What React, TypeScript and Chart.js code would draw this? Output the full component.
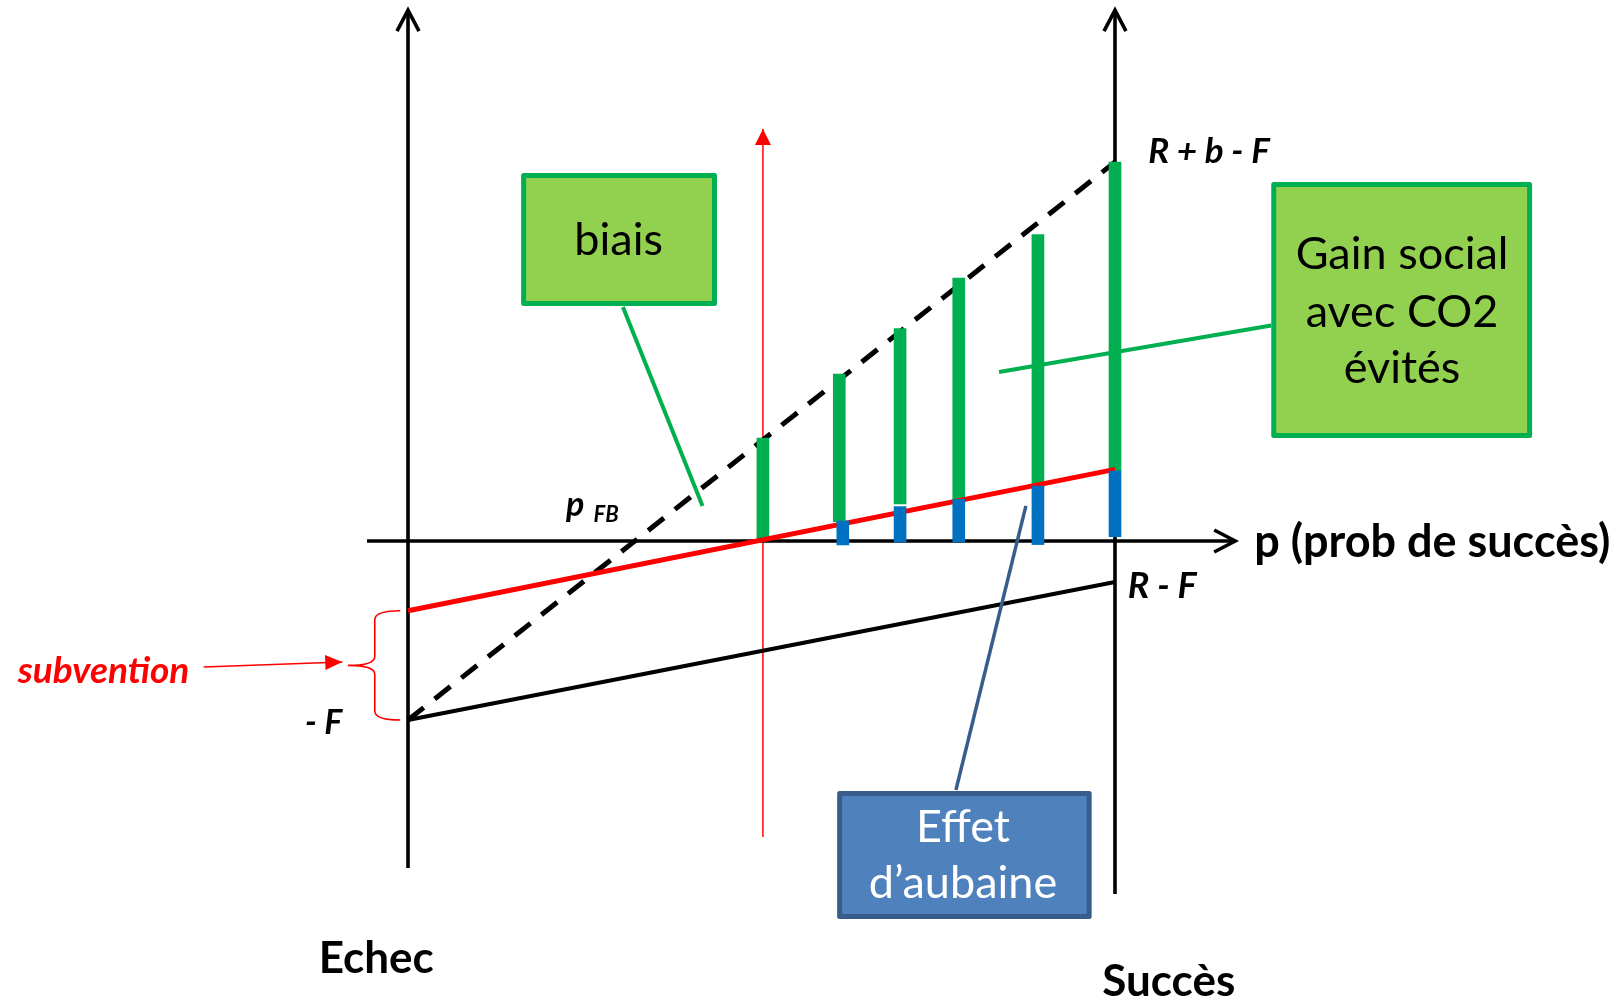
import React, { useEffect, useRef } from "react";
import { Chart, registerables } from "chart.js";

Chart.register(...registerables);

// ---------- values (x: probability of success p, 0 = Echec, 1 = Succès; y: payoff in units of F) ----------
const pEnds = [0, 1];
const minusF = -1;
const rMinusF = -0.229;
const rPlusBMinusF = 2.117;
const subsidyLine = [-0.39, 0.4];
const pThreshold = 0.502;

const gainX = [0.502, 0.61, 0.696, 0.779, 0.891, 1.0];
const gainLow = [0.005, 0.108, 0.207, 0.207, 0.303, 0.391];
const gainHigh = [0.575, 0.933, 1.187, 1.469, 1.712, 2.117];

const aubaineX = [0.615, 0.696, 0.779, 0.891, 1.0];
const aubaineLow = [-0.022, -0.006, -0.006, -0.02, 0.024];
const aubaineHigh = [0.112, 0.192, 0.233, 0.307, 0.391];

// axis extents (in data units)
const leftAxisY = [-1.827, 2.966];
const rightAxisY = [-1.972, 2.966];
const pAxisX = [-0.058, 1.17];
const thresholdY = [-1.654, 2.302];

// ---------- layout / annotations ----------
const VIEW = { xMin: -0.5771, xMax: 1.7143, yMin: -2.5754, yMax: 3.0223 };
const FONT = 'Lato, "Open Sans", sans-serif';

const connectorBiais = [
  { x: 0.304, y: 1.307 },
  { x: 0.4166, y: 0.196 },
];
const connectorGain = [
  { x: 1.221, y: 1.204 },
  { x: 0.836, y: 0.944 },
];
const connectorAubaine = [
  { x: 0.775, y: -1.391 },
  { x: 0.874, y: 0.196 },
];
const subventionArrow = [
  { x: -0.289, y: -0.704 },
  { x: -0.093, y: -0.676 },
];

const BOXES = [
  {
    x0: 0.16, x1: 0.437, y0: 2.056, y1: 1.313, fill: "#92D050", stroke: "#00B050", color: "#000000",
    lines: ["biais"], cx: 0.298, baselines: [1.598],
  },
  {
    x0: 1.221, x1: 1.59, y0: 2.006, y1: 0.575, fill: "#92D050", stroke: "#00B050", color: "#000000",
    lines: ["Gain social", "avec CO2", "évités"], cx: 1.406, baselines: [1.52, 1.196, 0.883],
  },
  {
    x0: 0.607, x1: 0.967, y0: -1.397, y1: -2.112, fill: "#4F81BD", stroke: "#385D8A", color: "#FFFFFF",
    lines: ["Effet", "d\u2019aubaine"], cx: 0.785, baselines: [-1.682, -1.994],
  },
];

const LABELS = [
  { text: "R + b - F", x: 1.047, y: 2.176, font: `italic bold 35px ${FONT}`, color: "#000", align: "left" },
  { text: "R - F", x: 1.018, y: -0.251, font: `italic bold 36px ${FONT}`, color: "#000", align: "left" },
  { text: "- F", x: -0.093, y: -1.017, font: `italic bold 34px ${FONT}`, color: "#000", align: "right" },
  { text: "p", x: 0.2235, y: 0.2, font: `italic bold 34px ${FONT}`, color: "#000", align: "left" },
  { text: "FB", x: 0.2625, y: 0.145, font: `italic bold 22px ${FONT}`, color: "#000", align: "left" },
  { text: "subvention", x: -0.552, y: -0.728, font: `italic bold 37px ${FONT}`, color: "#FF0000", align: "left" },
  { text: "p (prob de succès)", x: 1.197, y: -0.011, font: `bold 45px ${FONT}`, color: "#000", align: "left" },
  { text: "Echec", x: -0.045, y: -2.335, font: `bold 44px ${FONT}`, color: "#000", align: "center" },
  { text: "Succès", x: 1.076, y: -2.464, font: `bold 44px ${FONT}`, color: "#000", align: "center" },
];

const BRACE = { xTip: -0.011, xSpine: -0.047, xPoint: -0.085, yTop: subsidyLine[0], yBottom: minusF };

const line = (data: any[], color: string, width: number, extra: any = {}) => ({
  type: "line",
  data,
  borderColor: color,
  backgroundColor: color,
  borderWidth: width,
  pointRadius: 0,
  pointHoverRadius: 0,
  fill: false,
  tension: 0,
  borderCapStyle: "butt",
  ...extra,
});

const arrowPlugin = {
  id: "arrowHeads",
  afterDatasetsDraw(chart: any) {
    const ctx = chart.ctx;
    chart.data.datasets.forEach((ds: any, i: number) => {
      if (!ds.arrowHead) return;
      const pts = chart.getDatasetMeta(i).data;
      const a = pts[pts.length - 2];
      const b = pts[pts.length - 1];
      const ang = Math.atan2(b.y - a.y, b.x - a.x);
      const { len, half, filled } = ds.arrowHead;
      const bx = b.x - len * Math.cos(ang);
      const by = b.y - len * Math.sin(ang);
      const nx = -Math.sin(ang) * half;
      const ny = Math.cos(ang) * half;
      ctx.save();
      ctx.beginPath();
      ctx.moveTo(bx + nx, by + ny);
      ctx.lineTo(b.x, b.y);
      ctx.lineTo(bx - nx, by - ny);
      if (filled) {
        ctx.closePath();
        ctx.fillStyle = ds.borderColor;
        ctx.fill();
      } else {
        ctx.strokeStyle = ds.borderColor;
        ctx.lineWidth = ds.borderWidth;
        ctx.lineJoin = "miter";
        ctx.lineCap = "butt";
        ctx.stroke();
      }
      ctx.restore();
    });
  },
};

const annotationPlugin = {
  id: "annotations",
  afterDatasetsDraw(chart: any) {
    const ctx = chart.ctx;
    const X = (v: number) => chart.scales.x.getPixelForValue(v);
    const Y = (v: number) => chart.scales.y.getPixelForValue(v);
    ctx.save();

    // brace
    const xt = X(BRACE.xTip), xs = X(BRACE.xSpine), xp = X(BRACE.xPoint);
    const yt = Y(BRACE.yTop), yb = Y(BRACE.yBottom), ym = (yt + yb) / 2;
    const r = 9;
    ctx.beginPath();
    ctx.moveTo(xt, yt);
    ctx.quadraticCurveTo(xs, yt, xs, yt + r);
    ctx.lineTo(xs, ym - r);
    ctx.quadraticCurveTo(xs, ym, xp, ym);
    ctx.quadraticCurveTo(xs, ym, xs, ym + r);
    ctx.lineTo(xs, yb - r);
    ctx.quadraticCurveTo(xs, yb, xt, yb);
    ctx.strokeStyle = "#FF0000";
    ctx.lineWidth = 1.6;
    ctx.stroke();

    // boxes
    BOXES.forEach((b) => {
      const lw = 5;
      const x0 = X(b.x0) + lw / 2, x1 = X(b.x1) - lw / 2;
      const y0 = Y(b.y0) + lw / 2, y1 = Y(b.y1) - lw / 2;
      ctx.fillStyle = b.fill;
      ctx.fillRect(x0, y0, x1 - x0, y1 - y0);
      ctx.strokeStyle = b.stroke;
      ctx.lineWidth = lw;
      ctx.lineJoin = "round";
      ctx.strokeRect(x0, y0, x1 - x0, y1 - y0);
      ctx.fillStyle = b.color;
      ctx.font = `45px ${FONT}`;
      ctx.textAlign = "center";
      ctx.textBaseline = "alphabetic";
      b.lines.forEach((t, k) => ctx.fillText(t, X(b.cx), Y(b.baselines[k])));
    });

    // labels
    LABELS.forEach((l) => {
      ctx.font = l.font;
      ctx.fillStyle = l.color;
      ctx.textAlign = l.align;
      ctx.textBaseline = "middle";
      ctx.fillText(l.text, X(l.x), Y(l.y));
    });
    ctx.restore();
  },
};

export default function App() {
  const ref = useRef<HTMLCanvasElement | null>(null);

  useEffect(() => {
    if (!ref.current) return;
    const axisHead = { len: 21, half: 11, filled: false };

    const datasets: any[] = [
      line([{ x: 0, y: leftAxisY[0] }, { x: 0, y: leftAxisY[1] }], "#000000", 3.6, { order: 6, arrowHead: axisHead }),
      line([{ x: pEnds[1], y: rightAxisY[0] }, { x: pEnds[1], y: rightAxisY[1] }], "#000000", 3.6, { order: 6, arrowHead: axisHead }),
      line([{ x: pAxisX[0], y: 0 }, { x: pAxisX[1], y: 0 }], "#000000", 3.6, { order: 6, arrowHead: axisHead }),
      line([{ x: pThreshold, y: thresholdY[0] }, { x: pThreshold, y: thresholdY[1] }], "#FF0000", 1.5, {
        order: 6,
        arrowHead: { len: 16, half: 8, filled: true },
      }),
      line([{ x: pEnds[0], y: minusF }, { x: pEnds[1], y: rPlusBMinusF }], "#000000", 5, { order: 5, borderDash: [20, 14] }),
      line([{ x: pEnds[0], y: minusF }, { x: pEnds[1], y: rMinusF }], "#000000", 4, { order: 5 }),
      {
        type: "bar",
        data: gainX.map((x, i) => ({ x, y: [gainLow[i], gainHigh[i]] })),
        backgroundColor: "#00B050",
        borderWidth: 0,
        barThickness: 12,
        maxBarThickness: 12,
        grouped: false,
        order: 4,
      },
      line([{ x: pEnds[0], y: subsidyLine[0] }, { x: pEnds[1], y: subsidyLine[1] }], "#FF0000", 5, { order: 3 }),
      {
        type: "bar",
        data: aubaineX.map((x, i) => ({ x, y: [aubaineLow[i], aubaineHigh[i]] })),
        backgroundColor: "#0070C0",
        borderWidth: 0,
        barThickness: 12,
        maxBarThickness: 12,
        grouped: false,
        order: 2,
      },
      line(connectorBiais, "#00B050", 4, { order: 1 }),
      line(connectorGain, "#00B050", 4, { order: 1 }),
      line(connectorAubaine, "#385D8A", 3.5, { order: 1 }),
      line(subventionArrow, "#FF0000", 1.6, { order: 1, arrowHead: { len: 17, half: 7.5, filled: true } }),
    ];

    const chart = new Chart(ref.current, {
      type: "line",
      data: { datasets },
      options: {
        responsive: false,
        animation: false,
        devicePixelRatio: 1,
        layout: { padding: 0 },
        events: [],
        plugins: { legend: { display: false }, tooltip: { enabled: false }, title: { display: false } },
        scales: {
          x: { type: "linear", min: VIEW.xMin, max: VIEW.xMax, display: false, offset: false },
          y: { type: "linear", min: VIEW.yMin, max: VIEW.yMax, display: false },
        },
      },
      plugins: [arrowPlugin, annotationPlugin],
    } as any);
    return () => chart.destroy();
  }, []);

  return (
    <div style={{ position: "fixed", left: 0, top: 0, width: 1620, height: 1002, background: "#FFFFFF" }}>
      <canvas ref={ref} width={1620} height={1002} style={{ display: "block", width: 1620, height: 1002 }} />
    </div>
  );
}
